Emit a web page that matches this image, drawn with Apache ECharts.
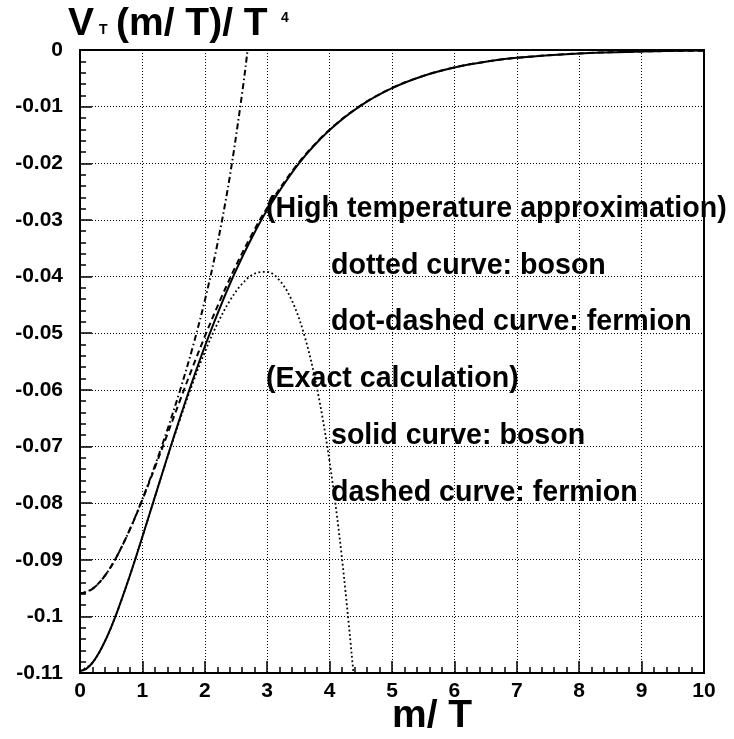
<!DOCTYPE html>
<html>
<head>
<meta charset="utf-8">
<title>Thermal potential V_T(m/T)/T^4</title>
<script src="https://cdn.jsdelivr.net/npm/echarts@6/dist/echarts.min.js"></script>
<style>
  html, body { margin: 0; padding: 0; background: #fff; }
  #chart { width: 734px; height: 739px; }
</style>
</head>
<body>
<div id="chart"></div>
<script>
// m/T sample points for the exact one-loop thermal functions
const massRatio = [0, 0.1, 0.2, 0.3, 0.4, 0.5, 0.6, 0.8, 1.0, 1.2, 1.4, 1.6, 1.8, 2.0,
                   2.25, 2.5, 2.75, 3, 3.5, 4, 4.5, 5, 5.5, 6, 6.5, 7, 8, 9, 10];

// exact calculation, boson (solid)
const bosonExact = [-0.10966, -0.10927, -0.10819, -0.10653, -0.10440, -0.10189, -0.09907,
                    -0.09278, -0.08594, -0.07890, -0.07187, -0.06503, -0.05849, -0.05235,
                    -0.04529, -0.03889, -0.03323, -0.02824, -0.02014, -0.01414, -0.00981,
                    -0.00673, -0.00458, -0.00309, -0.00207, -0.00138, -0.00060, -0.00026, -0.00011];

// exact calculation, fermion (dashed)
const fermionExact = [-0.09595, -0.09575, -0.09514, -0.09414, -0.09280, -0.09115, -0.08921,
                      -0.08465, -0.07940, -0.07373, -0.06785, -0.06194, -0.05615, -0.05058,
                      -0.04406, -0.03805, -0.03266, -0.02786, -0.01996, -0.01407, -0.00978,
                      -0.00671, -0.00457, -0.00308, -0.00207, -0.00138, -0.00060, -0.00026, -0.00011];

// high temperature expansion, boson (dotted)
const bosonHighTX = [0, 0.2, 0.4, 0.6, 0.8, 1.0, 1.2, 1.4, 1.6, 1.8, 2.0, 2.2, 2.4, 2.6,
                     2.8, 3.0, 3.2, 3.4, 3.6, 3.8, 4.0, 4.2, 4.4];
const bosonHighT = [-0.10966, -0.10819, -0.10440, -0.09907, -0.09278, -0.08596, -0.07894,
                    -0.07199, -0.06530, -0.05903, -0.05334, -0.04838, -0.04429, -0.04125,
                    -0.03947, -0.03918, -0.04069, -0.04434, -0.05055, -0.05982, -0.07272,
                    -0.08990, -0.11213];

// high temperature expansion, fermion (dot-dashed)
const fermionHighTX = [0, 0.2, 0.4, 0.6, 0.8, 1.0, 1.2, 1.4, 1.6, 1.8, 2.0, 2.2, 2.4, 2.6, 2.7, 2.8];
const fermionHighT = [-0.09595, -0.09514, -0.09280, -0.08921, -0.08462, -0.07929, -0.07341,
                      -0.06705, -0.06021, -0.05271, -0.04425, -0.03436, -0.02239, -0.00750,
                      0.00136, 0.01135];

// axis tick labels
const xTickLabels = ['0', '1', '2', '3', '4', '5', '6', '7', '8', '9', '10'];
const yTickLabels = ['0', '-0.01', '-0.02', '-0.03', '-0.04', '-0.05', '-0.06',
                     '-0.07', '-0.08', '-0.09', '-0.1', '-0.11'];

// annotation lines inside the frame
const noteLines = [
  { text: '(High temperature approximation)', indent: 0 },
  { text: 'dotted curve: boson', indent: 1 },
  { text: 'dot-dashed curve: fermion', indent: 1 },
  { text: '(Exact calculation)', indent: 0 },
  { text: 'solid curve: boson', indent: 1 },
  { text: 'dashed curve: fermion', indent: 1 }
];

const zip = (xs, ys) => xs.map((x, i) => [x, ys[i]]);

const FONT = '"Liberation Sans", Arial, Helvetica, sans-serif';
const chart = echarts.init(document.getElementById('chart'), null, { renderer: 'canvas' });

function txt(text, x, y, size) {
  return {
    type: 'text', x: x, y: y, silent: true, z: 100,
    style: {
      text: text, fill: '#000',
      font: 'bold ' + size + 'px ' + FONT,
      textAlign: 'left', textVerticalAlign: 'middle',
      align: 'left', verticalAlign: 'middle'
    }
  };
}

const graphics = [
  txt('V', 68, 24, 39),
  txt('T', 99, 30, 14),
  txt('(m/ T)/ T', 116, 24, 39),
  txt('4', 281, 18, 14),
  txt('m/ T', 392, 716, 39)
];
noteLines.forEach((ln, i) => {
  graphics.push(txt(ln.text, ln.indent ? 331 : 266, 209 + i * 56.8, 28.6));
});

const axisCommon = {
  axisLine: { show: true, onZero: false, lineStyle: { color: '#000', width: 2 } },
  axisTick: { show: true, inside: true, length: 12, lineStyle: { color: '#000', width: 1.5 } },
  minorTick: { show: true, splitNumber: 5, length: 6, lineStyle: { color: '#000', width: 1.5 } },
  splitLine: { show: true, lineStyle: { color: '#000', width: 1, type: [1, 2] } },
  minorSplitLine: { show: false }
};

chart.setOption({
  animation: false,
  backgroundColor: '#fff',
  grid: { left: 80, right: 30, top: 50, bottom: 66, show: true, borderColor: '#000', borderWidth: 2, containLabel: false },
  xAxis: Object.assign({
    type: 'value', min: 0, max: 10, interval: 1,
    axisLabel: {
      color: '#000', fontSize: 21, fontWeight: 'bold', fontFamily: FONT, margin: 8,
      formatter: v => xTickLabels[Math.round(v)]
    }
  }, axisCommon),
  yAxis: Object.assign({
    type: 'value', min: -0.11, max: 0, interval: 0.01,
    axisLabel: {
      color: '#000', fontSize: 21, fontWeight: 'bold', fontFamily: FONT, margin: 17,
      formatter: v => yTickLabels[Math.round(-v / 0.01)]
    }
  }, axisCommon),
  series: [
    {
      name: 'boson, high T', type: 'line', data: zip(bosonHighTX, bosonHighT),
      smooth: 0.35, showSymbol: false, clip: true,
      lineStyle: { color: '#000', width: 1.8, type: [1.8, 2.6] }
    },
    {
      name: 'fermion, high T', type: 'line', data: zip(fermionHighTX, fermionHighT),
      smooth: 0.35, showSymbol: false, clip: true,
      lineStyle: { color: '#000', width: 2, type: [6, 3, 1.5, 3] }
    },
    {
      name: 'fermion, exact', type: 'line', data: zip(massRatio, fermionExact),
      smooth: 0.35, showSymbol: false, clip: true,
      lineStyle: { color: '#000', width: 2, type: [6, 4] }
    },
    {
      name: 'boson, exact', type: 'line', data: zip(massRatio, bosonExact),
      smooth: 0.35, showSymbol: false, clip: true,
      lineStyle: { color: '#000', width: 2 }
    }
  ],
  graphic: graphics
});
</script>
</body>
</html>
